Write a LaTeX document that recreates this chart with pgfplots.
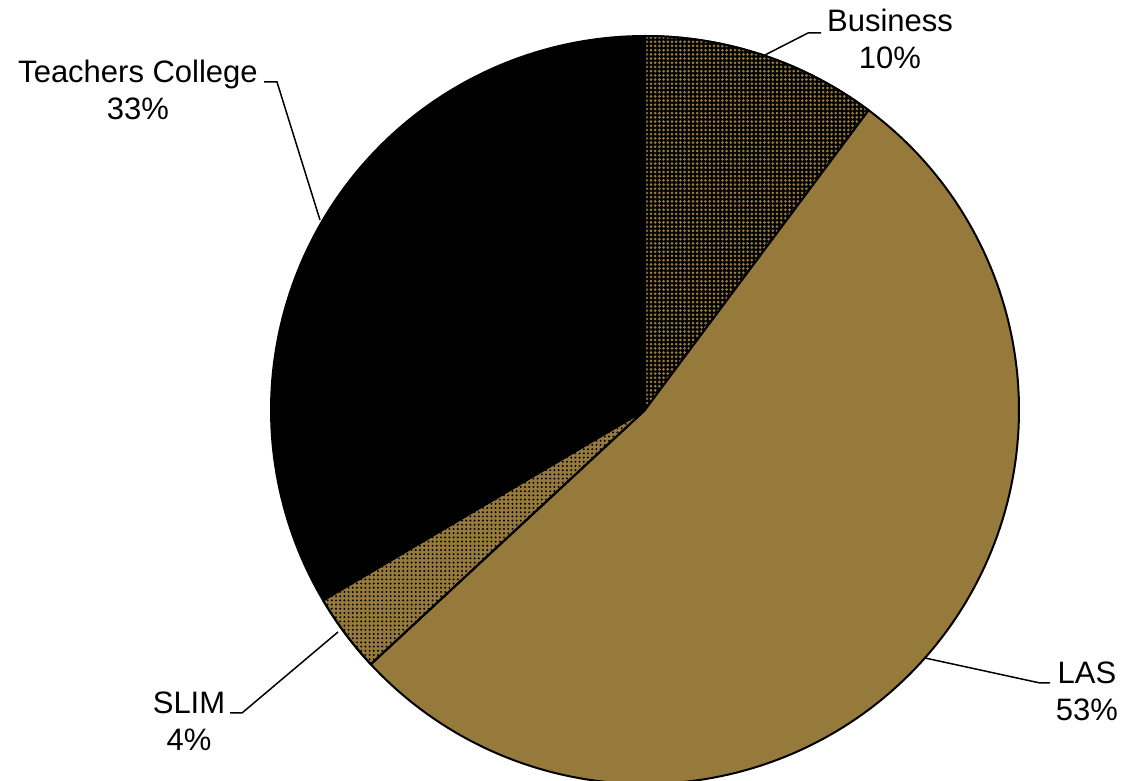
\documentclass[border=0pt]{standalone}
\usepackage{pgfplots}
\pgfplotsset{compat=1.18}
\usepackage{pgfplotstable}
\usetikzlibrary{patterns.meta}
\usepackage{fontspec}
\setmainfont{Liberation Sans}
\definecolor{lasbrown}{HTML}{967A3C}
\pgfplotstableread{
label value
Business 10.2
LAS 52.9
SLIM 3.4
Teachers 33.5
}\piedata
\begin{document}
\begin{tikzpicture}
\pgfplotstablegetelem{0}{value}\of\piedata \let\vA\pgfplotsretval
\pgfplotstablegetelem{1}{value}\of\piedata \let\vB\pgfplotsretval
\pgfplotstablegetelem{2}{value}\of\piedata \let\vC\pgfplotsretval
\pgfplotstablegetelem{3}{value}\of\piedata \let\vD\pgfplotsretval
\pgfmathsetmacro\aA{90}
\pgfmathsetmacro\aB{\aA-3.6*\vA}
\pgfmathsetmacro\aC{\aB-3.6*\vB}
\pgfmathsetmacro\aD{\aC-3.6*\vC}
\pgfmathsetmacro\aE{\aD-3.6*\vD}
\begin{axis}[
  scale only axis, width=563pt, height=390.5pt,
  xmin=0, xmax=1126, ymin=0, ymax=781,
  axis lines=none, clip=false,
  every axis plot/.append style={line width=1pt, draw=black, line join=round},
]
\coordinate (BL) at (axis cs:0,0);
\coordinate (TR) at (axis cs:1126,781);
% Business
\addplot[fill=black, postaction={pattern={Dots[distance=2.1pt, radius=0.75pt]}, pattern color=lasbrown},
  domain=\aB:\aA, samples=60, variable=\t]
  ({645+374*cos(\t)}, {371+374*sin(\t)}) -- (axis cs:645,371) -- cycle;
% LAS
\addplot[fill=lasbrown, domain=\aC:\aB, samples=150, variable=\t]
  ({645+374*cos(\t)}, {371+374*sin(\t)}) -- (axis cs:645,371) -- cycle;
% SLIM
\addplot[fill=lasbrown, postaction={pattern={Dots[distance=2.1pt, radius=0.55pt]}, pattern color=black},
  domain=\aD:\aC, samples=20, variable=\t]
  ({645+374*cos(\t)}, {371+374*sin(\t)}) -- (axis cs:645,371) -- cycle;
% Teachers College
\addplot[fill=black, domain=\aE:\aD, samples=100, variable=\t]
  ({645+374*cos(\t)}, {371+374*sin(\t)}) -- (axis cs:645,371) -- cycle;
% leader lines
\draw[line width=0.75pt] (axis cs:765,726) -- (axis cs:808,748) -- (axis cs:821,748);
\draw[line width=0.75pt] (axis cs:320,561) -- (axis cs:277,699) -- (axis cs:264,699);
\draw[line width=0.75pt] (axis cs:925,123) -- (axis cs:1040,98) -- (axis cs:1050,98);
\draw[line width=0.75pt] (axis cs:338,149) -- (axis cs:242,68) -- (axis cs:230,68);
% labels
\tikzset{lbl/.style={align=center, font=\fontsize{15.5}{18.5}\selectfont, inner sep=0pt}}
\node[lbl] at (axis cs:890,742) {Business\\10\%};
\node[lbl] at (axis cs:138,691) {Teachers College\\33\%};
\node[lbl] at (axis cs:1087,90) {LAS\\53\%};
\node[lbl] at (axis cs:189,60) {SLIM\\4\%};
\end{axis}
\pgfresetboundingbox
\path[use as bounding box] (BL) rectangle (TR);
\end{tikzpicture}
\end{document}
